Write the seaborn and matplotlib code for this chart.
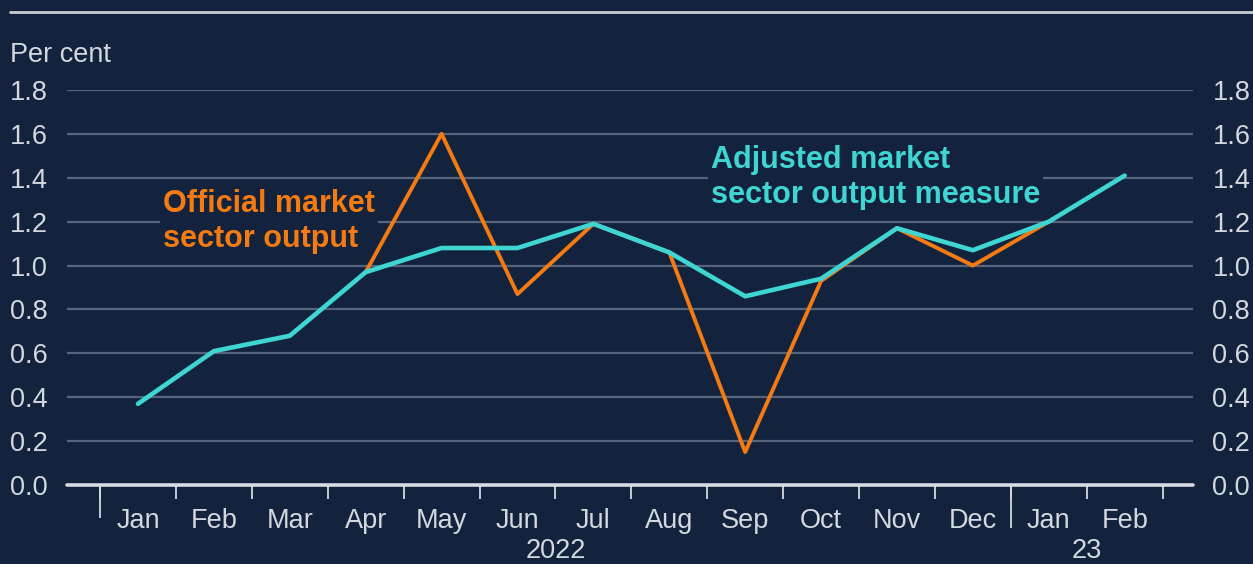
import numpy as np
import pandas as pd
import seaborn as sns
import matplotlib.pyplot as plt
from matplotlib.lines import Line2D

months = ['Jan', 'Feb', 'Mar', 'Apr', 'May', 'Jun', 'Jul', 'Aug', 'Sep', 'Oct',
          'Nov', 'Dec', 'Jan', 'Feb']
adjusted = [0.37, 0.61, 0.68, 0.97, 1.08, 1.08, 1.19, 1.06, 0.86, 0.94,
            1.17, 1.07, 1.20, 1.41]
official = [None, None, None, 0.97, 1.60, 0.87, 1.19, 1.06, 0.15, 0.93,
            1.17, 1.00, 1.20, None]
years = ['2022', '23']
year_pos = [5.5, 12.5]
yticks = [0.0, 0.2, 0.4, 0.6, 0.8, 1.0, 1.2, 1.4, 1.6, 1.8]

BG = '#13233e'
TXT = '#d3d8df'
GRID = '#56657c'
CYAN = '#3fd5d2'
ORANGE = '#f47a12'
FS = 19.5

df = pd.DataFrame({'x': np.arange(len(months)), 'adjusted': adjusted,
                   'official': pd.to_numeric(pd.Series(official), errors='coerce')})

sns.set_style('dark')
plt.rcParams['font.family'] = ['Liberation Sans', 'DejaVu Sans']

fig = plt.figure(figsize=(12.53, 5.64), dpi=100, facecolor=BG)
ax = fig.add_axes([67 / 1253, 1 - 485 / 564, (1193 - 67) / 1253, (485 - 90) / 564])
ax.set_facecolor(BG)

sns.lineplot(data=df, x='x', y='official', color=ORANGE, lw=2.8, ax=ax, zorder=3)
sns.lineplot(data=df, x='x', y='adjusted', color=CYAN, lw=3.3, ax=ax, zorder=4)

ax.set_xlim(-0.935, 13.9)
ax.set_ylim(0, 1.8)
for s in ax.spines.values():
    s.set_visible(False)

# gridlines
for v in yticks[1:]:
    ax.axhline(v, color=GRID, lw=1.6, zorder=0)
ax.axhline(0, color='#d8dce2', lw=2.6, zorder=5, clip_on=False)

ax.set_yticks(yticks)
ax.set_yticklabels([f'{v:.1f}' for v in yticks])
ax.tick_params(axis='y', length=0, left=False, right=False, labelleft=True,
               labelright=True, labelsize=FS, labelcolor=TXT, pad=14)

ax.set_xticks(np.arange(len(months)))
ax.set_xticklabels(months)
ax.set_xticks(np.arange(-0.5, 14.0, 1.0), minor=True)
ax.tick_params(axis='x', which='major', bottom=True, length=0, labelsize=FS,
               labelcolor=TXT, pad=16.5)
ax.tick_params(axis='x', which='minor', bottom=True, length=10, width=1.3,
               color=TXT, direction='out')
ax.set_xlabel('')
ax.set_ylabel('')

# long separator ticks
for pos, ln in [(-0.5, 24), (11.5, 31)]:
    sec = ax.secondary_xaxis('bottom')
    sec.set_xticks([pos])
    sec.set_xticklabels([''])
    sec.tick_params(bottom=True, length=ln, width=1.3, color=TXT)
    sec.spines['bottom'].set_visible(False)

# year labels
yr = ax.secondary_xaxis('bottom')
yr.set_xticks(year_pos)
yr.set_xticklabels(years)
yr.tick_params(length=0, labelsize=FS, labelcolor=TXT, pad=38)
yr.spines['bottom'].set_visible(False)

fig.text(10 / 1253, 1 - 55 / 564, 'Per cent', color=TXT, fontsize=FS,
         ha='left', va='center')
fig.add_artist(Line2D([10 / 1253, 1], [1 - 12 / 564, 1 - 12 / 564],
                      color='#c9cdd5', lw=2))

ax.text(0.33, 1.20, 'Official market\nsector output', color=ORANGE,
        fontsize=22, fontweight='bold', ha='left', va='center', linespacing=1.2,
        bbox=dict(facecolor=BG, edgecolor='none', pad=2), zorder=1)
ax.text(7.55, 1.40, 'Adjusted market\nsector output measure', color=CYAN,
        fontsize=22, fontweight='bold', ha='left', va='center', linespacing=1.2,
        bbox=dict(facecolor=BG, edgecolor='none', pad=2), zorder=1)

fig.savefig('out.png', dpi=100, facecolor=BG)
